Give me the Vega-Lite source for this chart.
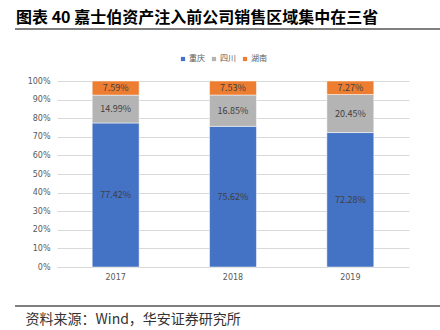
{
  "$schema": "https://vega.github.io/schema/vega-lite/v6.json",
  "autosize": "none",
  "width": 352,
  "height": 186,
  "padding": {"left": 57, "top": 81, "right": 31, "bottom": 63},
  "background": "white",
  "config": {
    "view": {"stroke": null},
    "font": "Noto Sans CJK SC"
  },
  "title": {
    "text": "图表 40  嘉士伯资产注入前公司销售区域集中在三省",
    "anchor": "start",
    "frame": "group",
    "dx": -41,
    "fontSize": 16,
    "fontWeight": "bold",
    "font": "Noto Sans CJK SC",
    "color": "#000000",
    "offset": 3
  },
  "data": {
    "values": [
      {"year": "2017", "region": "重庆", "value": 77.42},
      {"year": "2017", "region": "四川", "value": 14.99},
      {"year": "2017", "region": "湖南", "value": 7.59},
      {"year": "2018", "region": "重庆", "value": 75.62},
      {"year": "2018", "region": "四川", "value": 16.85},
      {"year": "2018", "region": "湖南", "value": 7.53},
      {"year": "2019", "region": "重庆", "value": 72.28},
      {"year": "2019", "region": "四川", "value": 20.45},
      {"year": "2019", "region": "湖南", "value": 7.27}
    ]
  },
  "transform": [
    {"calculate": "datum.region === '重庆' ? 0 : (datum.region === '四川' ? 1 : 2)", "as": "ord"},
    {"stack": "value", "groupby": ["year"], "sort": [{"field": "ord", "order": "ascending"}], "as": ["v0", "v1"]},
    {"calculate": "(datum.v0 + datum.v1) / 2", "as": "mid"},
    {"calculate": "format(datum.value, '.2f') + '%'", "as": "label"}
  ],
  "encoding": {
    "x": {
      "field": "year",
      "type": "nominal",
      "scale": {"paddingInner": 0.6, "paddingOuter": 0.3},
      "axis": {
        "labelAngle": 0,
        "ticks": false,
        "domain": false,
        "labelPadding": 6,
        "labelFontSize": 8,
        "labelColor": "#595959",
        "labelFont": "DejaVu Sans",
        "title": "资料来源：Wind，华安证券研究所",
        "titleAnchor": "start",
        "titleAlign": "left",
        "titleBaseline": "middle",
        "titleX": -32,
        "titleY": 52,
        "titleFontSize": 14,
        "titleFontWeight": "normal",
        "titleColor": "#333333",
        "titleFont": "Noto Sans CJK SC"
      }
    }
  },
  "layer": [
    {
      "mark": {"type": "bar", "stroke": "white", "strokeWidth": 0.5},
      "encoding": {
        "y": {
          "field": "v0",
          "type": "quantitative",
          "scale": {"domain": [0, 100]},
          "axis": {
            "values": [0, 10, 20, 30, 40, 50, 60, 70, 80, 90, 100],
            "labelExpr": "datum.value + '%'",
            "labelOverlap": false,
            "domain": false,
            "ticks": false,
            "gridColor": "#D9D9D9",
            "labelColor": "#595959",
            "labelFontSize": 8,
            "labelFont": "DejaVu Sans",
            "labelPadding": 7,
            "title": null
          }
        },
        "y2": {"field": "v1"},
        "color": {
          "field": "region",
          "type": "nominal",
          "scale": {"domain": ["重庆", "四川", "湖南"], "range": ["#4472C4", "#B4B4B4", "#ED7D31"]},
          "legend": {
            "orient": "none",
            "direction": "horizontal",
            "legendX": 122,
            "legendY": -26,
            "title": null,
            "symbolType": "square",
            "symbolSize": 18,
            "symbolStrokeWidth": 0,
            "labelFontSize": 8,
            "labelColor": "#595959",
            "labelOffset": 2,
            "columnPadding": 5
          }
        }
      }
    },
    {
      "mark": {"type": "text", "fontSize": 9, "color": "#404040", "baseline": "middle"},
      "encoding": {
        "y": {
          "field": "mid",
          "type": "quantitative",
          "scale": {"domain": [0, 100]},
          "axis": {
            "values": [0, 10, 20, 30, 40, 50, 60, 70, 80, 90, 100],
            "labelExpr": "datum.value + '%'",
            "labelOverlap": false,
            "domain": false,
            "ticks": false,
            "gridColor": "#D9D9D9",
            "labelColor": "#595959",
            "labelFontSize": 8,
            "labelFont": "DejaVu Sans",
            "labelPadding": 7,
            "title": null
          }
        },
        "text": {"field": "label", "type": "nominal"}
      }
    },
    {
      "data": {"values": [{}]},
      "mark": {"type": "rule", "color": "#000000", "strokeWidth": 1},
      "encoding": {"x": {"value": -42}, "x2": {"value": 383}, "y": {"value": -52}}
    },
    {
      "data": {"values": [{}]},
      "mark": {"type": "rule", "color": "#000000", "strokeWidth": 1},
      "encoding": {"x": {"value": -42}, "x2": {"value": 383}, "y": {"value": 225}}
    }
  ]
}
